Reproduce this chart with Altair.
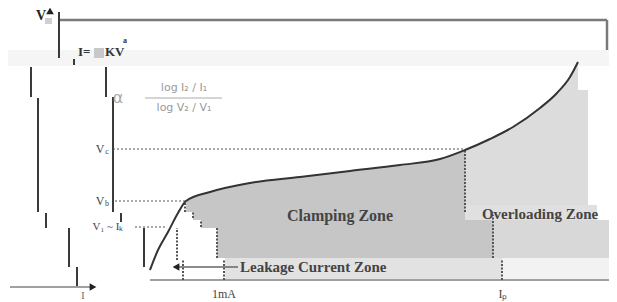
import altair as alt
import pandas as pd

# ---- data (diagram units: current axis 0..601, voltage axis -8..286) ----
curve_i = [142, 150, 160, 170, 178, 202, 242, 292, 342, 392, 432, 457, 482, 505, 532, 549, 562, 570]
curve_v = [24, 44, 62, 81, 93, 102, 111, 117, 123, 129, 135, 144, 155, 167, 186, 201, 217, 232]

v_levels = {"Vc": 145, "Vb": 93, "V1": 67}
i_marks = {"1mA": 216, "Ip": 495}

zone_names = ["haze", "leak_low", "leak_high", "right_mid", "kbox", "vbox"]
zone_x1 = [0, 217, 494, 485, 86, 37]
zone_x2 = [601, 494, 609, 609, 96, 44]
zone_y1 = [228, 14, 14, 36, 236, 270]
zone_y2 = [244, 36, 36, 74, 246, 276]
zone_col = ["#f5f5f5", "#e2e2e2", "#f2f2f2", "#d8d8d8", "#c8c8c8", "#d0d0d0"]

zone2_names = ["clamp_ext", "stair1", "stair2", "stair3", "over_band", "over_top"]
zone2_x1 = [457, 169, 185, 193, 457, 555]
zone2_x2 = [485, 185, 193, 209, 589, 580]
zone2_y1 = [36, 36, 36, 36, 74, 89]
zone2_y2 = [74, 82, 74, 66, 89, 204]
zone2_col = ["#c6c6c6", "#ffffff", "#ffffff", "#ffffff", "#e0e0e0", "#dcdcdc"]

# solid frame / bracket lines
solid_x1 = [51, 23, 98, 30, 105, 38, 113, 61, 136, 69, 66]
solid_x2 = [51, 23, 98, 30, 105, 38, 113, 61, 136, 69, 66]
solid_y1 = [236, 197, 197, 82, 82, 66, 72, 27, 27, 6, 229]
solid_y2 = [282, 227, 227, 196, 197, 81, 81, 66, 66, 27, 235]

box_x1 = [52, 599]
box_x2 = [599, 599]
box_y1 = [274, 244]
box_y2 = [274, 274]

axis_x1 = [142, 2]
axis_x2 = [609, 82]
axis_y1 = [14, 7]
axis_y2 = [14, 7]

hdot_x1 = [105, 107, 127]
hdot_x2 = [457, 177, 157]
hdot_y = [v_levels["Vc"], v_levels["Vb"], v_levels["V1"]]

vdot_x = [457, 485, 494, 177, 185, 193, 209, 169, 175, 216]
vdot_y1 = [82, 36, 14, 82, 76, 67, 36, 34, 14, 14]
vdot_y2 = [144, 79, 34, 92, 82, 74, 66, 66, 34, 34]

arrow_x = [42, 85, 168]
arrow_y = [283, 7, 27]
arrow_shape = ["triangle-up", "triangle-right", "triangle-left"]

X = alt.Scale(domain=[0, 601], nice=False, zero=False)
Y = alt.Scale(domain=[-8, 286], nice=False, zero=False)


def xq(f):
    return alt.X(f, type="quantitative", scale=X, axis=None)


def yq(f):
    return alt.Y(f, type="quantitative", scale=Y, axis=None)


def rects(x1, x2, y1, y2, col):
    df = pd.DataFrame({"x1": x1, "x2": x2, "y1": y1, "y2": y2, "c": col})
    return alt.Chart(df).mark_rect().encode(
        x=xq("x1"), x2="x2", y=yq("y1"), y2="y2",
        color=alt.Color("c:N", scale=None))


def rules(x1, x2, y1, y2, **kw):
    df = pd.DataFrame({"x1": x1, "x2": x2, "y1": y1, "y2": y2})
    return alt.Chart(df).mark_rule(**kw).encode(
        x=xq("x1"), x2="x2", y=yq("y1"), y2="y2")


curve = pd.DataFrame({"i": curve_i, "v": curve_v})
clamp = curve[(curve.i >= 178) & (curve.i <= 457)].assign(base=36)
over = curve[curve.i >= 457].assign(base=89)

layers = []
layers.append(rects(zone_x1, zone_x2, zone_y1, zone_y2, zone_col))
layers.append(alt.Chart(clamp).mark_area(color="#c6c6c6", interpolate="monotone").encode(
    x=xq("i"), y=yq("v"), y2="base"))
layers.append(rects(zone2_x1, zone2_x2, zone2_y1, zone2_y2, zone2_col))
layers.append(alt.Chart(over).mark_area(color="#dcdcdc", interpolate="monotone").encode(
    x=xq("i"), y=yq("v"), y2="base"))

layers.append(rules(solid_x1, solid_x2, solid_y1, solid_y2, color="#3a3a3a", strokeWidth=2))
layers.append(rules(box_x1, box_x2, box_y1, box_y2, color="#7a7a7a", strokeWidth=2.5))
layers.append(rules(axis_x1, axis_x2, axis_y1, axis_y2, color="#a0a0a0", strokeWidth=2))
layers.append(rules(hdot_x1, hdot_x2, hdot_y, hdot_y, color="#555555", strokeWidth=1.2,
                    strokeDash=[2, 2]))
layers.append(rules(vdot_x, vdot_x, vdot_y1, vdot_y2, color="#555555", strokeWidth=2,
                    strokeDash=[2, 1.5]))
layers.append(rules([166], [230], [27], [27], color="#666666", strokeWidth=1.5))
layers.append(rules([137], [214], [196], [196], color="#aaaaaa", strokeWidth=1))

layers.append(alt.Chart(curve).mark_line(color="#333333", strokeWidth=2,
                                         interpolate="monotone").encode(x=xq("i"), y=yq("v")))

for ax, ay, sh in zip(arrow_x, arrow_y, arrow_shape):
    adf = pd.DataFrame({"x": [ax], "y": [ay]})
    layers.append(alt.Chart(adf).mark_point(
        shape=sh, filled=True, size=60, color="#222222", opacity=1).encode(
        x=xq("x"), y=yq("y")))


def text(s, x, y, size=12, align="center", color="#333333", weight="normal",
         font="Liberation Serif"):
    df = pd.DataFrame({"x": [x], "y": [y], "t": [s]})
    return alt.Chart(df).mark_text(fontSize=size, align=align, baseline="middle",
                                   color=color, fontWeight=weight, font=font).encode(
        x=xq("x"), y=yq("y"), text="t:N")


layers += [
    text("V", 33, 278, 14, weight="bold", color="#222222"),
    text("I=", 70, 242, 13, align="left", weight="bold"),
    text("KV", 97, 242, 13, align="left", weight="bold"),
    text("a", 117, 253, 8, weight="bold"),
    text("α", 110, 196, 16, color="#aaaaaa", font="DejaVu Sans"),
    text("log I₂ / I₁", 176, 206, 11, color="#999999", font="DejaVu Sans"),
    text("log V₂ / V₁", 176, 186, 11, color="#999999", font="DejaVu Sans"),
    text("V", 92, v_levels["Vc"], 12, color="#444444"),
    text("c", 99, v_levels["Vc"] - 3, 8, color="#444444"),
    text("V", 92, v_levels["Vb"], 12, color="#444444"),
    text("b", 99, v_levels["Vb"] - 3, 8, color="#444444"),
    text("V₁ ~ Iₖ", 100, v_levels["V1"], 11, color="#444444"),
    text("Clamping Zone", 332, 78, 16, weight="bold", color="#444444"),
    text("Overloading Zone", 532, 80, 15, weight="bold", color="#444444"),
    text("Leakage Current Zone", 232, 27, 15, align="left", weight="bold", color="#444444"),
    text("1mA", i_marks["1mA"], 0, 12, color="#444444"),
    text("Iₚ", i_marks["Ip"], 0, 12, color="#444444"),
    text("I", 75, -2, 10, color="#666666"),
]

chart = alt.layer(*layers).properties(
    width=601, height=294, padding=0, autosize="none", background="white"
).configure_view(stroke=None)

chart.save("out.html", embed_options={"renderer": "svg", "actions": False})
